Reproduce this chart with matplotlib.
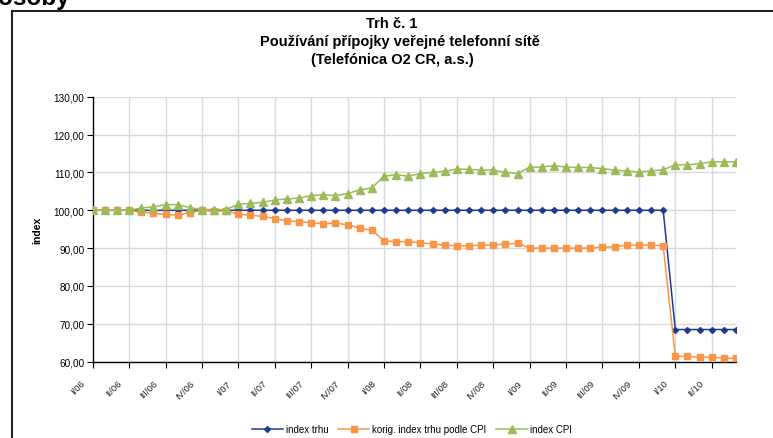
import numpy as np
import matplotlib
matplotlib.use("Agg")
import matplotlib.pyplot as plt
from matplotlib.lines import Line2D
from matplotlib.transforms import ScaledTranslation

plt.rcParams['font.family'] = ['Liberation Sans', 'DejaVu Sans']

# ctvrtletni popisky (kazdy treti mesic)
tick_labels = ["I/06", "II/06", "III/06", "IV/06",
               "I/07", "II/07", "III/07", "IV/07",
               "I/08", "II/08", "III/08", "IV/08",
               "I/09", "II/09", "III/09", "IV/09",
               "I/10", "II/10"]

# mesicni hodnoty 1/2006 - 6/2010
index_trhu = [100.0, 100.0, 100.0, 100.0, 100.0, 100.0, 100.0, 100.0, 100.0, 100.0, 100.0, 100.0,
              100.0, 100.0, 100.0, 100.0, 100.0, 100.0, 100.0, 100.0, 100.0, 100.0, 100.0, 100.0,
              100.0, 100.0, 100.0, 100.0, 100.0, 100.0, 100.0, 100.0, 100.0, 100.0, 100.0, 100.0,
              100.0, 100.0, 100.0, 100.0, 100.0, 100.0, 100.0, 100.0, 100.0, 100.0, 100.0, 100.0,
              68.5, 68.5, 68.5, 68.5, 68.5, 68.5]

korig_index = [100.0, 100.0, 100.0, 100.0, 99.5, 99.2, 98.9, 98.7, 99.4, 100.0, 99.7, 99.9,
               98.9, 98.7, 98.4, 97.8, 97.2, 97.0, 96.7, 96.5, 96.6, 96.2, 95.3, 94.7,
               92.0, 91.7, 91.7, 91.4, 91.1, 90.8, 90.6, 90.6, 90.8, 90.8, 91.1, 91.3,
               90.0, 90.0, 90.0, 90.0, 90.0, 90.0, 90.3, 90.3, 90.8, 90.8, 90.8, 90.6,
               61.4, 61.4, 61.2, 61.2, 60.9, 60.9]

index_cpi = [100.0, 100.0, 100.0, 100.0, 100.6, 100.9, 101.5, 101.5, 100.7, 100.2, 100.2, 100.2,
             101.6, 101.8, 102.1, 102.7, 103.0, 103.2, 103.9, 104.1, 103.9, 104.4, 105.4, 105.9,
             109.0, 109.4, 109.0, 109.7, 110.0, 110.3, 110.9, 110.8, 110.6, 110.6, 110.0, 109.7,
             111.4, 111.4, 111.8, 111.4, 111.3, 111.3, 111.0, 110.6, 110.4, 110.1, 110.4, 110.7,
             112.0, 112.0, 112.3, 112.8, 112.8, 112.8]

x = np.arange(len(index_trhu))

fig = plt.figure(figsize=(7.73, 4.39), dpi=100)
ax = fig.add_axes([92.7/773, 1 - 362.7/439, (736 - 92.7)/773, (362.7 - 97.7)/439])

ax.plot(x, index_trhu, color='#1f3a8f', lw=1.1, marker='D', ms=3, label='index trhu', zorder=3)
ax.plot(x, korig_index, color='#f79646', lw=1.1, marker='s', ms=4, label='korig. index trhu podle CPI', zorder=4)
ax.plot(x, index_cpi, color='#9bbb59', lw=1.1, marker='^', ms=6, label='index CPI', zorder=5)

ax.set_xlim(0, len(x) - 1)
ax.set_ylim(60, 130)
ax.set_yticks(np.arange(60, 131, 10))
ax.set_yticklabels(["%d,00" % v for v in range(60, 131, 10)], fontsize=7.2)

xt = np.arange(0, len(x), 3)
ax.set_xticks(xt)
ax.set_xticklabels(tick_labels, fontsize=6.8, rotation=45, ha='right', va='top')
ax.tick_params(axis='x', length=4, pad=8, color='black')
ax.tick_params(axis='y', length=4, pad=2, color='black')
for lab in ax.get_xticklabels():
    lab.set_transform(lab.get_transform() + ScaledTranslation(-6/100, 0, fig.dpi_scale_trans))
    lab.set_color('#222222')

ax.grid(axis='y', color='#d9d9d9', lw=1.0, zorder=0)
for xv in xt[1:]:
    ax.axvline(xv, color='#d3dbe6', lw=1.0, zorder=0)
ax.set_axisbelow(True)

for s in ['top', 'right']:
    ax.spines[s].set_visible(False)
ax.spines['left'].set_linewidth(1.0)
ax.spines['bottom'].set_linewidth(1.0)

ax.set_ylabel('index', fontsize=7.5, fontweight='bold', labelpad=8)

fig.text(392/773, 1 - 24/439, 'Trh č. 1', ha='center', va='center', fontsize=10.5, fontweight='bold')
fig.text(400/773, 1 - 42/439, 'Používání přípojky veřejné telefonní sítě', ha='center', va='center',
         fontsize=10.5, fontweight='bold')
fig.text(392/773, 1 - 60/439, '(Telefónica O2 CR, a.s.)', ha='center', va='center', fontsize=10.5, fontweight='bold')

fig.legend(loc='center', bbox_to_anchor=(412/773, 1 - 430/439), ncol=3, frameon=False, fontsize=7,
           handlelength=3.2, columnspacing=1.0, handletextpad=0.3)

# ramecek grafu a useknuty nadpis z dokumentu
fig.add_artist(Line2D([11.5/773, 11.5/773], [0, 1 - 11.5/439], color='#222222', lw=1.5))
fig.add_artist(Line2D([11.5/773, 1], [1 - 11.5/439, 1 - 11.5/439], color='#222222', lw=1.5))
fig.text(-2/773, 1 - 5/439, 'osoby', ha='left', va='baseline', fontsize=17.5, fontweight='bold')

fig.savefig('out.png', dpi=100)
